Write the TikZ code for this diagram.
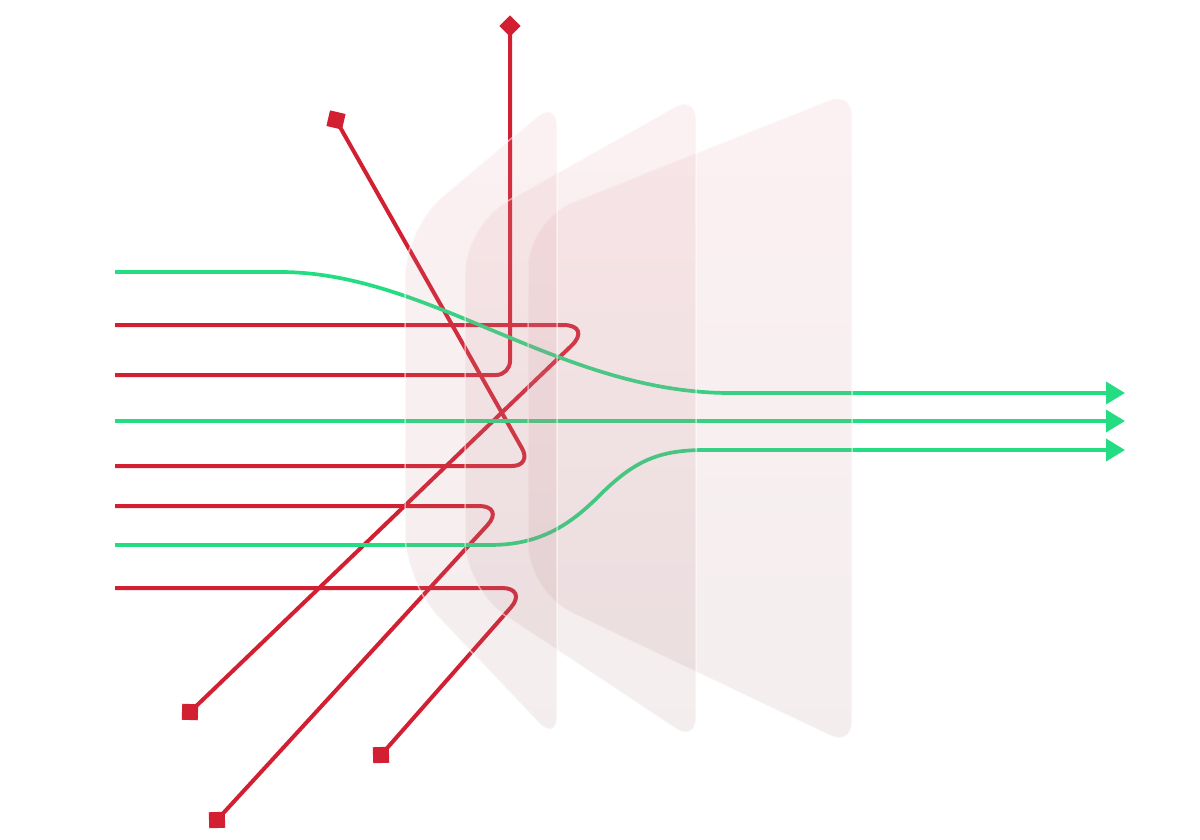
\documentclass[tikz,border=0pt]{standalone}
\usetikzlibrary{arrows.meta}
\definecolor{rline}{RGB}{210,32,50}
\definecolor{gline}{RGB}{36,220,130}
\definecolor{ptop}{RGB}{228,145,155}
\definecolor{pbot}{RGB}{165,118,122}
\begin{document}
\begin{tikzpicture}[x=1pt,y=-1pt,
  redl/.style={draw=rline, line width=4pt},
  greenl/.style={draw=gline, line width=3.7pt},
  garrow/.style={greenl, -{Triangle[length=19pt,width=22pt]}},
  endsq/.style={rectangle, fill=rline, minimum size=16pt, inner sep=0pt},
  panel/.style={top color=ptop, bottom color=pbot, fill opacity=0.13, draw=white, draw opacity=0.55, line width=1.5pt}]
\useasboundingbox (0,0) rectangle (1200,840);

% end markers
\node[endsq, rotate=45, minimum size=15pt] (d1) at (510,26) {};
\node[endsq, rotate=-13] (s2) at (336,120) {};
\node[endsq, rotate=-2] (e3) at (190,712) {};
\node[endsq, rotate=2] (e4) at (217,820) {};
\node[endsq, rotate=2] (e5) at (381,755) {};

% start coordinates
\coordinate (a1) at (115,272);
\coordinate (a2) at (115,325);
\coordinate (a3) at (115,375);
\coordinate (a4) at (115,421);
\coordinate (a5) at (115,466);
\coordinate (a6) at (115,506);
\coordinate (a7) at (115,545);
\coordinate (a8) at (115,588);
\coordinate (t1) at (1125,393);
\coordinate (t2) at (1125,421);
\coordinate (t3) at (1125,450);

% red lines
\draw[redl, rounded corners=14pt] (d1.center) -- (510,375) -- (a3);
\draw[redl, rounded corners=20pt] (s2.center) -- (532,466) -- (a5);
\draw[redl, rounded corners=30pt] (a2) -- (593,325) -- (e3.center);
\draw[redl, rounded corners=26pt] (a6) -- (505,506) -- (e4.center);
\draw[redl, rounded corners=26pt] (a8) -- (528,588) -- (e5.center);

% green lines
\draw[garrow] (a1) -- (280,272) .. controls (430,272) and (560,393) .. (730,393) -- (t1);
\draw[garrow] (a4) -- (t2);
\draw[garrow] (a7) -- (490,545) .. controls (540,545) and (570,525) .. (600,495) .. controls (635,460) and (660,450) .. (705,450) -- (t3);

% translucent panels (back to front); corner radius set by the option before "-- corner"
\path[panel] (852,420) [rounded corners=24pt] -- (852,91) [rounded corners=48pt] -- (528,220) -- (528,592) [rounded corners=24pt] -- (852,746) -- cycle;
\path[panel] (696,420) [rounded corners=24pt] -- (696,95) [rounded corners=48pt] -- (465,225) -- (465,589) [rounded corners=24pt] -- (696,742) -- cycle;
\path[panel] (557,420) [rounded corners=26pt] -- (557,100) [rounded corners=48pt] -- (405,228) -- (405,582) [rounded corners=26pt] -- (557,742) -- cycle;
\end{tikzpicture}
\end{document}
